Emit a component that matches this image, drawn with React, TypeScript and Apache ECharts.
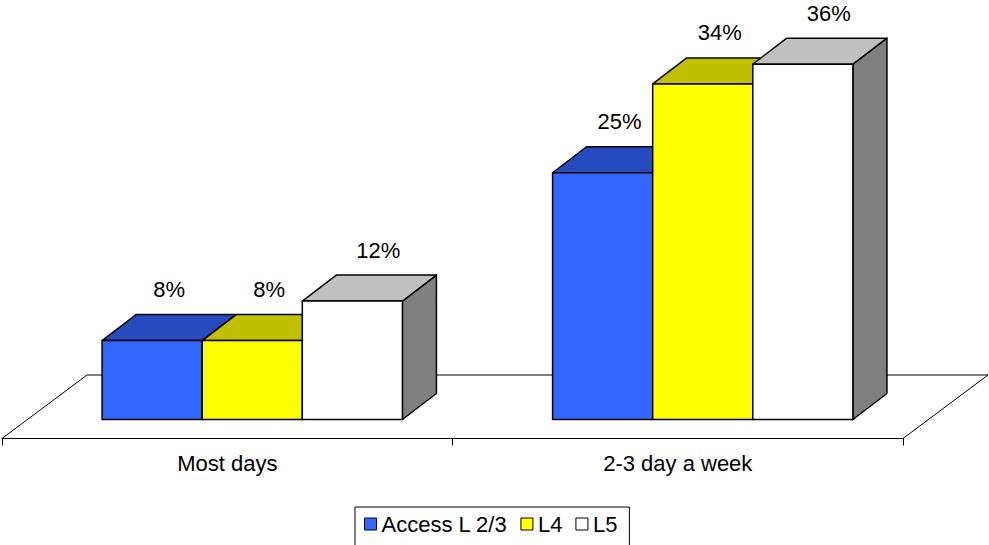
import React, { useEffect, useRef } from "react";
import * as echarts from "echarts";

const categories = ["Most days", "2-3 day a week"];
const seriesNames = ["Access L 2/3", "L4", "L5"];
const accessL23 = [8, 25];
const l4 = [8, 34];
const l5 = [12, 36];
const seriesValues = [accessL23, l4, l5];

const FONT = '"Liberation Sans", Arial, Helvetica, sans-serif';
const COLORS = [
  { front: "#3366FF", top: "#264CBF", side: "#1A337F" },
  { front: "#FFFF00", top: "#C0C000", side: "#808000" },
  { front: "#FFFFFF", top: "#C0C0C0", side: "#808080" },
];
const LABEL_SHIFT = [0, 0, 9];
const DEPTH_DX = 34;
const DEPTH_DY = -26;
const FLOOR_FRONT_DX = -25;
const FLOOR_FRONT_DY = 19;
const FLOOR_BACK_DX = 60;
const FLOOR_BACK_DY = -44.5;

export default function App() {
  const ref = useRef<HTMLDivElement>(null);

  useEffect(() => {
    if (!ref.current) return;
    const chart = echarts.init(ref.current, null, { renderer: "svg" });

    const barSeries = seriesNames.map((name, idx) => ({
      type: "custom",
      name,
      xAxisIndex: 0,
      yAxisIndex: 0,
      z: 2 + idx,
      clip: false,
      itemStyle: { color: COLORS[idx].front },
      data: seriesValues[idx].map((v, i) => [i, v]),
      renderItem: (params: any, api: any) => {
        const cat = api.value(0);
        const val = api.value(1);
        const base = api.coord([cat, 0]);
        const top = api.coord([cat, val]);
        const band = api.size([1, 0])[0];
        const bw = (band * 2) / 9;
        const x0 = base[0] - 1.5 * bw + idx * bw;
        const ty = top[1];
        const by = base[1];
        const stroke = { stroke: "#000", lineWidth: 1.5, lineJoin: "round" };
        return {
          type: "group",
          children: [
            {
              type: "polygon",
              shape: {
                points: [
                  [x0 + bw, ty],
                  [x0 + bw + DEPTH_DX, ty + DEPTH_DY],
                  [x0 + bw + DEPTH_DX, by + DEPTH_DY],
                  [x0 + bw, by],
                ],
              },
              style: { fill: COLORS[idx].side, ...stroke },
            },
            {
              type: "polygon",
              shape: {
                points: [
                  [x0, ty],
                  [x0 + bw, ty],
                  [x0 + bw + DEPTH_DX, ty + DEPTH_DY],
                  [x0 + DEPTH_DX, ty + DEPTH_DY],
                ],
              },
              style: { fill: COLORS[idx].top, ...stroke },
            },
            {
              type: "rect",
              shape: { x: x0, y: ty, width: bw, height: by - ty },
              style: { fill: COLORS[idx].front, ...stroke },
            },
            {
              type: "text",
              x: x0 + bw / 2 + DEPTH_DX / 2 + LABEL_SHIFT[idx],
              y: ty + DEPTH_DY - 25,
              style: {
                text: val + "%",
                fill: "#000",
                font: `22px ${FONT}`,
                align: "center",
                verticalAlign: "middle",
              },
            },
          ],
        };
      },
    }));

    const floorSeries = {
      type: "custom",
      xAxisIndex: 0,
      yAxisIndex: 0,
      z: 1,
      clip: false,
      silent: true,
      data: [[0, 0]],
      renderItem: (params: any) => {
        const cs = params.coordSys;
        const l = cs.x;
        const r = cs.x + cs.width;
        const b = cs.y + cs.height;
        return {
          type: "polygon",
          shape: {
            points: [
              [l + FLOOR_FRONT_DX, b + FLOOR_FRONT_DY],
              [r + FLOOR_FRONT_DX, b + FLOOR_FRONT_DY],
              [r + FLOOR_BACK_DX, b + FLOOR_BACK_DY],
              [l + FLOOR_BACK_DX, b + FLOOR_BACK_DY],
            ],
          },
          style: { fill: "#fff", stroke: "#000", lineWidth: 1 },
        };
      },
    };

    chart.setOption({
      animation: false,
      backgroundColor: "#fff",
      textStyle: { fontFamily: FONT },
      grid: [
        { left: 27, right: 61, top: 24.7, bottom: 125.5 },
        { left: 2, right: 86, top: 24.7, bottom: 106.5 },
      ],
      xAxis: [
        { type: "category", gridIndex: 0, data: categories, show: false },
        {
          type: "category",
          gridIndex: 1,
          data: categories,
          axisLine: { lineStyle: { color: "#000", width: 1 } },
          axisTick: { show: true, length: 7, lineStyle: { color: "#000" } },
          axisLabel: { fontSize: 22, color: "#000", margin: 14, fontFamily: FONT },
        },
      ],
      yAxis: [
        { type: "value", gridIndex: 0, min: 0, max: 40, show: false },
        { type: "value", gridIndex: 1, min: 0, max: 1, show: false },
      ],
      legend: {
        data: seriesNames,
        left: 355,
        top: 507,
        orient: "horizontal",
        icon: "rect",
        itemWidth: 12,
        itemHeight: 12,
        itemGap: 13,
        itemStyle: { borderColor: "#000", borderWidth: 1 },
        borderColor: "#000",
        borderWidth: 1,
        padding: [6, 12, 20, 9],
        selectedMode: false,
        textStyle: { fontSize: 22, color: "#000", fontFamily: FONT },
      },
      series: [floorSeries, ...barSeries],
    });

    return () => chart.dispose();
  }, []);

  return (
    <div
      ref={ref}
      style={{ position: "fixed", left: 0, top: 0, width: 989, height: 545 }}
    />
  );
}
